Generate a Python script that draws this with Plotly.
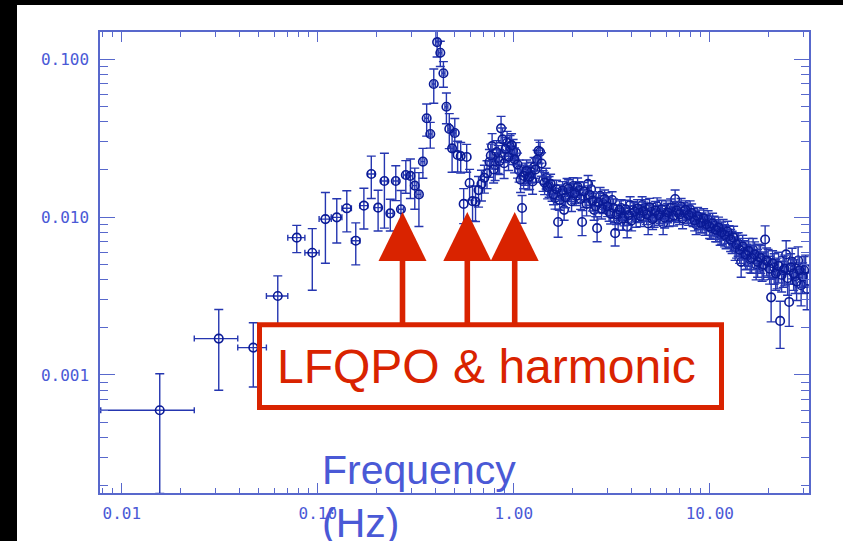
import plotly.graph_objects as go

# ---- power density spectrum: evenly binned low-frequency part (1/64 Hz bins)
freq_lin = [0.015625, 0.03125, 0.046875, 0.0625, 0.078125, 0.09375, 0.109375, 0.125,
            0.140625, 0.15625, 0.171875, 0.1875, 0.203125, 0.21875, 0.234375, 0.25,
            0.265625, 0.28125, 0.296875, 0.3125, 0.328125, 0.34375, 0.359375, 0.375,
            0.390625, 0.40625, 0.421875, 0.4375, 0.453125, 0.46875, 0.484375, 0.5]
power_lin = [0.000598, 0.00170, 0.00149, 0.00316, 0.00740, 0.00594, 0.00970, 0.00995,
             0.01135, 0.00708, 0.0118, 0.0187, 0.01146, 0.0169, 0.01055, 0.0169,
             0.0112, 0.01845, 0.0182, 0.0158, 0.0139, 0.0224, 0.0422, 0.0335,
             0.0695, 0.128, 0.1096, 0.0812, 0.0499, 0.0361, 0.0272, 0.0340]
err_lin = [0.00042, 0.00090, 0.00065, 0.00108, 0.00145, 0.0025, 0.0046, 0.0031,
           0.0033, 0.0021, 0.0034, 0.0056, 0.0033, 0.0084, 0.0024, 0.0042,
           0.0035, 0.0043, 0.0051, 0.0046, 0.0052, 0.0048, 0.0097, 0.0062,
           0.0170, 0.025, 0.020, 0.015, 0.011, 0.009, 0.008, 0.008]
bin_half_width = 1.0 / 128

# ---- rebinned part above 0.5 Hz (first segment)
freq_reb = [0.517, 0.536, 0.555, 0.575, 0.595, 0.616, 0.638, 0.661, 0.684, 0.708, 0.730,
            0.751, 0.775, 0.803, 0.832, 0.861, 0.892, 0.924, 0.957, 0.992, 1.027,
            1.064, 1.102, 1.142, 1.183, 1.225, 1.269, 1.315, 1.362, 1.411, 1.462,
            1.514, 1.568, 1.624, 1.683, 1.743, 1.806, 1.870, 1.937, 2.007, 2.079,
            2.154, 2.231, 2.311, 2.394, 2.480, 2.569, 2.661, 2.756, 2.855, 2.958,
            3.064, 3.174, 3.288, 3.406, 3.528, 3.655, 3.786, 3.922, 4.062, 4.207,
            4.358, 4.515, 4.677, 4.845, 5.018, 5.198, 5.385, 5.578, 5.778, 5.984,
            6.199, 6.422, 6.653, 6.891, 7.138, 7.394, 7.660, 7.934, 8.219, 8.514,
            8.820, 9.136, 9.463, 9.802, 10.15, 10.52, 10.89, 11.29, 11.69, 12.11,
            12.55, 13.00, 13.46, 13.95, 14.45, 14.96, 15.50, 16.06, 16.63, 17.23,
            17.85, 18.49, 19.15, 19.84, 20.55, 21.29, 22.05, 22.84, 23.66, 24.51,
            25.39, 26.30, 27.24, 28.22, 29.23, 30.28, 31.36]
power_reb = [0.0247, 0.0243, 0.0121, 0.0240, 0.0164, 0.0126, 0.0125, 0.0148, 0.0162, 0.0177, 0.0189,
             0.0223, 0.0281, 0.0213, 0.0236, 0.0364, 0.0219, 0.0295, 0.0278, 0.0262, 0.0255,
             0.0198, 0.0114, 0.0189, 0.0177, 0.0193, 0.0207, 0.0230, 0.0258, 0.0171, 0.0177,
             0.0157, 0.0148, 0.0132, 0.0093, 0.0140, 0.0111, 0.0155, 0.0144, 0.0157, 0.0136,
             0.0148, 0.0093, 0.0132, 0.0162, 0.0150, 0.0111, 0.0085, 0.0136, 0.0121, 0.0126,
             0.0108, 0.0128, 0.0079, 0.0096, 0.0114, 0.0101, 0.0087, 0.0119, 0.0111, 0.0099,
             0.0106, 0.0119, 0.0114, 0.0091, 0.0108, 0.0099, 0.0117, 0.0105, 0.0091, 0.0112,
             0.0100, 0.0108, 0.0130, 0.0106, 0.0116, 0.0109, 0.0105, 0.0112, 0.0100, 0.0090,
             0.0097, 0.0093, 0.0089, 0.0096, 0.0085, 0.0088, 0.0082, 0.0078, 0.0084, 0.0075,
             0.0076, 0.0070, 0.0064, 0.0068, 0.0052, 0.0060, 0.0057, 0.0054, 0.0062, 0.0050,
             0.0056, 0.0049, 0.0072, 0.0052, 0.0031, 0.0048, 0.0045, 0.0022, 0.0046, 0.0058,
             0.0029, 0.0052, 0.0042, 0.0053, 0.0037, 0.0046, 0.0035]
# relative 1-sigma errors, percent
relerr_reb = [22, 22, 25, 20, 22, 25, 25, 22, 22, 20, 20,
              20, 20, 20, 20, 19, 20, 18, 18, 18, 16,
              16, 20, 16, 16, 15, 15, 15, 15, 15, 15,
              15, 15, 15, 20, 14, 14, 13, 13, 13, 13,
              13, 18, 13, 13, 13, 14, 18, 13, 13, 13,
              13, 13, 17, 14, 13, 13, 15, 13, 13, 13,
              13, 13, 13, 15, 13, 13, 13, 13, 15, 13,
              13, 13, 14, 13, 13, 13, 13, 13, 13, 14,
              14, 14, 14, 14, 15, 15, 15, 15, 15, 16,
              16, 16, 17, 17, 20, 18, 18, 18, 18, 20,
              20, 20, 22, 20, 30, 22, 22, 33, 22, 22,
              30, 22, 22, 22, 26, 22, 26]

# ---- rebinned part, interleaved second segment (0.76-31 Hz)
freq_reb2 = [0.763, 0.789, 0.817, 0.846, 0.876, 0.908, 0.940, 0.974, 1.009, 1.045,
             1.083, 1.122, 1.162, 1.204, 1.247, 1.292, 1.338, 1.386, 1.436, 1.488,
             1.541, 1.596, 1.653, 1.713, 1.774, 1.838, 1.903, 1.971, 2.043, 2.116,
             2.192, 2.271, 2.352, 2.436, 2.524, 2.614, 2.708, 2.805, 2.906, 3.010,
             3.118, 3.230, 3.346, 3.466, 3.591, 3.720, 3.853, 3.991, 4.134, 4.281,
             4.435, 4.595, 4.760, 4.931, 5.107, 5.290, 5.480, 5.677, 5.880, 6.090,
             6.309, 6.536, 6.771, 7.013, 7.264, 7.525, 7.796, 8.075, 8.365, 8.665,
             8.976, 9.298, 9.630, 9.975, 10.33, 10.71, 11.08, 11.49, 11.90, 12.32,
             12.77, 13.23, 13.70, 14.20, 14.71, 15.22, 15.77, 16.34, 16.92, 17.53,
             18.17, 18.82, 19.49, 20.19, 20.91, 21.67, 22.44, 23.24, 24.08, 24.94,
             25.84, 26.77, 27.72, 28.72, 29.75, 30.82]
power_reb2 = [0.0245, 0.0200, 0.0258, 0.0226, 0.0310, 0.0270, 0.0240, 0.0285, 0.0232, 0.0215,
              0.0172, 0.0182, 0.0196, 0.0180, 0.0168, 0.0200, 0.0262, 0.0218, 0.0165, 0.0155,
              0.0162, 0.0139, 0.0150, 0.0128, 0.0147, 0.0133, 0.0151, 0.0126, 0.0142, 0.0155,
              0.0130, 0.0145, 0.0121, 0.0138, 0.0127, 0.0117, 0.0124, 0.0113, 0.0130, 0.0117,
              0.0105, 0.0114, 0.0104, 0.0111, 0.0098, 0.0112, 0.0103, 0.0095, 0.0108, 0.0113,
              0.0101, 0.0109, 0.0104, 0.0115, 0.0097, 0.0110, 0.0103, 0.0112, 0.0099, 0.0107,
              0.0114, 0.0102, 0.0110, 0.0104, 0.0098, 0.0111, 0.0103, 0.0106, 0.0095, 0.0101,
              0.0092, 0.0098, 0.0090, 0.0087, 0.0091, 0.0083, 0.0086, 0.0080, 0.0077, 0.0081,
              0.0072, 0.0074, 0.0067, 0.0062, 0.0065, 0.0058, 0.0061, 0.0055, 0.0058, 0.0052,
              0.0055, 0.0050, 0.0053, 0.0047, 0.0051, 0.0044, 0.0049, 0.0043, 0.0047, 0.0041,
              0.0048, 0.0044, 0.0039, 0.0046, 0.0042, 0.0047]
relerr_reb2 = [18, 18, 18, 18, 18, 18, 18, 18, 18, 18,
               17, 17, 17, 17, 17, 17, 17, 17, 16, 16,
               15, 14, 14, 14, 14, 14, 14, 14, 14, 14,
               14, 14, 16, 14, 14, 14, 14, 14, 14, 14,
               14, 14, 14, 14, 16, 14, 14, 14, 14, 14,
               14, 14, 14, 14, 14, 14, 14, 14, 14, 14,
               14, 14, 14, 14, 14, 14, 14, 14, 14, 14,
               14, 15, 15, 16, 16, 16, 16, 16, 16, 16,
               16, 18, 18, 18, 18, 20, 20, 20, 20, 20,
               20, 20, 20, 20, 20, 22, 22, 22, 22, 22,
               22, 22, 24, 22, 22, 22]

err_reb = [p * r / 100.0 for p, r in zip(power_reb, relerr_reb)]
err_reb2 = [p * r / 100.0 for p, r in zip(power_reb2, relerr_reb2)]

# ---- axis ticks
x_tickvals = [0.01, 0.1, 1, 10]
x_ticktext = ["0.01", "0.10", "1.00", "10.00"]
y_tickvals = [0.001, 0.01, 0.1]
y_ticktext = ["0.001", "0.010", "0.100"]

# ---- annotation texts
box_label = "LFQPO & harmonic"
axis_label = "Frequency<br>(Hz)"

# ---- styling
W, H = 843, 541
ML, MR, MT, MB = 100, 34, 32, 48
AXIS_BLUE = "#5868cc"
LABEL_BLUE = "#4a59d6"
MARK_BLUE = "#0a1a96"
BAR_BLUE = "#2536b0"
RED = "#d92300"


def fx(p):
    """pixel column -> paper x"""
    return (p - ML) / (W - ML - MR)


def fy(p):
    """pixel row -> paper y"""
    return (H - MB - p) / (H - MT - MB)


marker = dict(symbol="circle-open", size=8.5, color=MARK_BLUE, line=dict(width=1.6, color=MARK_BLUE))
ebar = dict(type="data", color=BAR_BLUE, thickness=1.4, width=4.5)

fig = go.Figure()
fig.add_trace(go.Scatter(
    x=freq_lin, y=power_lin, mode="markers", marker=marker,
    error_y=dict(ebar, array=err_lin),
    error_x=dict(type="constant", value=bin_half_width, color=BAR_BLUE, thickness=1.4, width=3),
    showlegend=False, hoverinfo="skip"))
for fr, pw, er in ((freq_reb, power_reb, err_reb), (freq_reb2, power_reb2, err_reb2)):
    fig.add_trace(go.Scatter(
        x=fr, y=pw, mode="markers", marker=marker,
        error_y=dict(ebar, array=er),
        showlegend=False, hoverinfo="skip"))

tickfont = dict(family="DejaVu Sans Mono", size=16, color=LABEL_BLUE)
fig.update_xaxes(
    type="log", range=[-2.111, 1.506],
    tickmode="array", tickvals=x_tickvals, ticktext=x_ticktext,
    ticks="inside", ticklen=10, tickwidth=1.3, tickcolor=AXIS_BLUE,
    minor=dict(ticks="inside", ticklen=5, tickwidth=1.3, tickcolor=AXIS_BLUE, dtick="D1", showgrid=False),
    showline=True, linecolor=AXIS_BLUE, linewidth=1.5, mirror="allticks",
    showgrid=False, zeroline=False, tickfont=tickfont, ticklabelstandoff=5)
fig.update_yaxes(
    type="log", range=[-3.747, -0.829],
    tickmode="array", tickvals=y_tickvals, ticktext=y_ticktext,
    ticks="inside", ticklen=15, tickwidth=1.3, tickcolor=AXIS_BLUE,
    minor=dict(ticks="inside", ticklen=8, tickwidth=1.3, tickcolor=AXIS_BLUE, dtick="D1", showgrid=False),
    showline=True, linecolor=AXIS_BLUE, linewidth=1.5, mirror="allticks",
    showgrid=False, zeroline=False, tickfont=tickfont, ticklabelstandoff=6)

shapes = [
    # white sheet over the black backdrop
    dict(type="rect", xref="paper", yref="paper", x0=fx(17), x1=fx(W + 5), y0=fy(H + 5), y1=fy(5),
         fillcolor="white", line=dict(width=0), layer="below"),
    # label box
    dict(type="rect", xref="paper", yref="paper", x0=fx(259.5), x1=fx(721.5), y0=fy(407.5), y1=fy(324.8),
         line=dict(color=RED, width=5), fillcolor="rgba(0,0,0,0)"),
]
for cx in (402.5, 467.3, 514.7):
    shapes.append(dict(type="rect", xref="paper", yref="paper",
                       x0=fx(cx - 2.8), x1=fx(cx + 2.8), y0=fy(324), y1=fy(259),
                       fillcolor=RED, line=dict(width=0)))
    shapes.append(dict(type="path", xref="paper", yref="paper",
                       path=f"M {fx(cx - 24)},{fy(261)} L {fx(cx)},{fy(212)} L {fx(cx + 24)},{fy(261)} Z",
                       fillcolor=RED, line=dict(width=0)))

annotations = [
    dict(text=box_label, xref="paper", yref="paper", x=fx(486.5), y=fy(366),
         xanchor="center", yanchor="middle", showarrow=False,
         font=dict(family="Liberation Sans", size=48, color=RED)),
    dict(text=axis_label, xref="paper", yref="paper", x=fx(320), y=fy(445),
         xanchor="left", yanchor="top", align="left", showarrow=False,
         font=dict(family="Liberation Sans", size=41, color=LABEL_BLUE)),
]

fig.update_layout(
    width=W, height=H,
    margin=dict(l=ML, r=MR, t=MT, b=MB, pad=0),
    paper_bgcolor="black", plot_bgcolor="white",
    shapes=shapes, annotations=annotations,
    showlegend=False,
)

fig.write_html("out.html", config={"displayModeBar": False})
